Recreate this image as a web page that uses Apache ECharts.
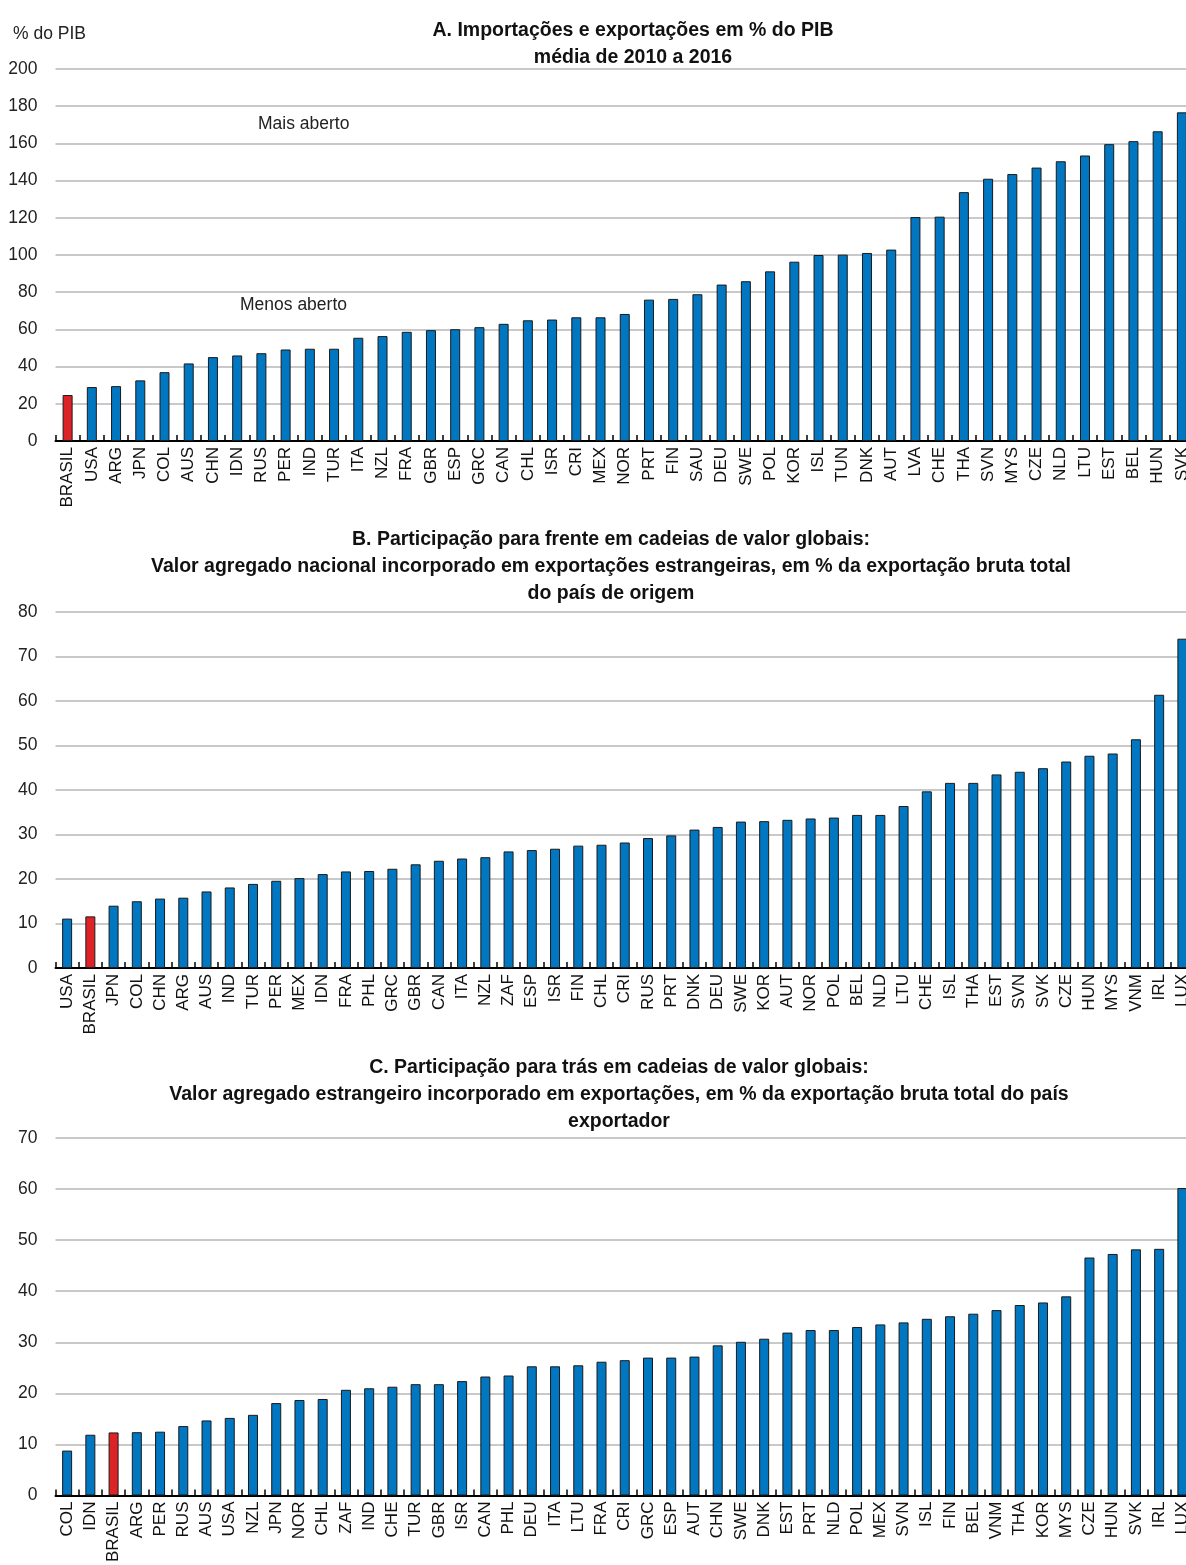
<!DOCTYPE html>
<html>
<head>
<meta charset="utf-8">
<title>Abertura comercial e cadeias de valor</title>
<script src="https://cdn.jsdelivr.net/npm/echarts@6/dist/echarts.min.js"></script>
<style>
    html, body { margin: 0; padding: 0; background: #ffffff; overflow: hidden; }
    /* um pouco mais largo que a janela: a última barra fica cortada como no original */
    #main { width: 1194px; height: 1565px; }
</style>
</head>
<body>
<div id="main"></div>
<script>
// Painel A
var catA = ['BRASIL', 'USA', 'ARG', 'JPN', 'COL', 'AUS', 'CHN', 'IDN', 'RUS', 'PER', 'IND', 'TUR', 'ITA', 'NZL', 'FRA', 'GBR', 'ESP', 'GRC', 'CAN', 'CHL', 'ISR', 'CRI', 'MEX', 'NOR', 'PRT', 'FIN', 'SAU', 'DEU', 'SWE', 'POL', 'KOR', 'ISL', 'TUN', 'DNK', 'AUT', 'LVA', 'CHE', 'THA', 'SVN', 'MYS', 'CZE', 'NLD', 'LTU', 'EST', 'BEL', 'HUN', 'SVK'];
var valA = [24.7, 29.0, 29.5, 32.6, 37.0, 41.7, 45.1, 46.0, 47.2, 49.2, 49.6, 49.6, 55.5, 56.4, 58.7, 59.6, 60.1, 61.2, 63.0, 64.9, 65.3, 66.5, 66.5, 68.3, 76.0, 76.4, 78.9, 84.1, 85.9, 91.2, 96.4, 100.0, 100.2, 101.1, 102.9, 120.4, 120.6, 133.8, 141.0, 143.5, 147.0, 150.4, 153.5, 159.6, 161.2, 166.5, 176.7];

// Painel B
var catB = ['USA', 'BRASIL', 'JPN', 'COL', 'CHN', 'ARG', 'AUS', 'IND', 'TUR', 'PER', 'MEX', 'IDN', 'FRA', 'PHL', 'GRC', 'GBR', 'CAN', 'ITA', 'NZL', 'ZAF', 'ESP', 'ISR', 'FIN', 'CHL', 'CRI', 'RUS', 'PRT', 'DNK', 'DEU', 'SWE', 'KOR', 'AUT', 'NOR', 'POL', 'BEL', 'NLD', 'LTU', 'CHE', 'ISL', 'THA', 'EST', 'SVN', 'SVK', 'CZE', 'HUN', 'MYS', 'VNM', 'IRL', 'LUX'];
var valB = [11.1, 11.6, 14.0, 15.0, 15.6, 15.8, 17.2, 18.1, 18.9, 19.6, 20.2, 21.1, 21.7, 21.8, 22.3, 23.3, 24.1, 24.6, 24.9, 26.2, 26.5, 26.8, 27.5, 27.7, 28.2, 29.2, 29.8, 31.1, 31.7, 32.9, 33.0, 33.3, 33.6, 33.8, 34.4, 34.4, 36.4, 39.7, 41.6, 41.6, 43.5, 44.1, 44.9, 46.4, 47.7, 48.2, 51.4, 61.4, 74.0];

// Painel C
var catC = ['COL', 'IDN', 'BRASIL', 'ARG', 'PER', 'RUS', 'AUS', 'USA', 'NZL', 'JPN', 'NOR', 'CHL', 'ZAF', 'IND', 'CHE', 'TUR', 'GBR', 'ISR', 'CAN', 'PHL', 'DEU', 'ITA', 'LTU', 'FRA', 'CRI', 'GRC', 'ESP', 'AUT', 'CHN', 'SWE', 'DNK', 'EST', 'PRT', 'NLD', 'POL', 'MEX', 'SVN', 'ISL', 'FIN', 'BEL', 'VNM', 'THA', 'KOR', 'MYS', 'CZE', 'HUN', 'SVK', 'IRL', 'LUX'];
var valC = [8.8, 11.9, 12.35, 12.4, 12.5, 13.6, 14.7, 15.2, 15.8, 18.1, 18.7, 18.9, 20.7, 21.0, 21.3, 21.8, 21.8, 22.4, 23.3, 23.5, 25.3, 25.3, 25.5, 26.2, 26.5, 27.0, 27.0, 27.2, 29.4, 30.1, 30.7, 31.9, 32.4, 32.4, 33.0, 33.5, 33.9, 34.6, 35.1, 35.6, 36.3, 37.3, 37.8, 39.0, 46.6, 47.3, 48.2, 48.3, 60.2];

var titleA = 'A. Importações e exportações em % do PIB\nmédia de 2010 a 2016';
var titleB = 'B. Participação para frente em cadeias de valor globais:\nValor agregado nacional incorporado em exportações estrangeiras, em % da exportação bruta total\ndo país de origem';
var titleC = 'C. Participação para trás em cadeias de valor globais:\nValor agregado estrangeiro incorporado em exportações, em % da exportação bruta total do país\nexportador';

var FONT = "'Liberation Sans', Arial, Helvetica, sans-serif";
var BLUE = '#0077c0';
var RED = '#dc2328';

function BarData(cats, vals) {
    var out = [];
    for (var i = 0; i < vals.length; i++) {
        out.push({
            value: vals[i],
            itemStyle: { color: cats[i] == 'BRASIL' ? RED : BLUE }
        });
    }
    return out;
}

function MakeX(idx, cats) {
    return {
        type: 'category',
        gridIndex: idx,
        data: cats,
        axisLine: { lineStyle: { color: '#000000', width: 2 } },
        axisTick: { show: true, inside: true, length: 6, interval: 0, lineStyle: { color: '#000000', width: 1.5 } },
        axisLabel: { interval: 0, rotate: 90, margin: 6, fontSize: 17, color: '#111111', fontFamily: FONT },
        splitLine: { show: false }
    };
}

function MakeY(idx, max) {
    return {
        type: 'value',
        gridIndex: idx,
        min: 0,
        max: max,
        interval: max == 200 ? 20 : 10,
        axisLine: { show: false },
        axisTick: { show: false },
        axisLabel: { margin: 18, fontSize: 17.5, color: '#222222', fontFamily: FONT },
        splitLine: { lineStyle: { color: '#c9c9c9', width: 2 } }
    };
}

function MakeSeries(idx, cats, vals) {
    return {
        type: 'bar',
        xAxisIndex: idx,
        yAxisIndex: idx,
        data: BarData(cats, vals),
        barWidth: 10,
        itemStyle: { borderColor: '#1a1a1a', borderWidth: 1 },
        animation: false
    };
}

function MakeTitle(text, cx, top) {
    return {
        text: text,
        left: cx,
        top: top,
        textAlign: 'center',
        textStyle: { fontFamily: FONT, fontWeight: 'bold', fontSize: 19.5, lineHeight: 27, color: '#111111' }
    };
}

function Note(text, x, y) {
    return {
        type: 'text',
        left: x,
        top: y,
        style: { text: text, fontFamily: FONT, fontSize: 17.5, fill: '#222222' }
    };
}

var myChart = echarts.init(document.getElementById('main'), null, { renderer: 'canvas' });

var option = {
    backgroundColor: '#ffffff',
    animation: false,
    title: [
        MakeTitle(titleA, 628, 12),
        MakeTitle(titleB, 606, 521),
        MakeTitle(titleC, 614, 1049)
    ],
    grid: [
        { left: 55.5, right: 0, top: 69, height: 372 },
        { left: 55.5, right: 0, top: 612, height: 356 },
        { left: 55.5, right: 0, top: 1138, height: 361 }
    ],
    xAxis: [MakeX(0, catA), MakeX(1, catB), MakeX(2, catC)],
    yAxis: [MakeY(0, 200), MakeY(1, 80), MakeY(2, 70)],
    series: [
        MakeSeries(0, catA, valA),
        MakeSeries(1, catB, valB),
        MakeSeries(2, catC, valC)
    ],
    graphic: [
        Note('% do PIB', 13, 25),
        Note('Mais aberto', 258, 115),
        Note('Menos aberto', 240, 296)
    ]
};

myChart.setOption(option);
</script>
</body>
</html>
